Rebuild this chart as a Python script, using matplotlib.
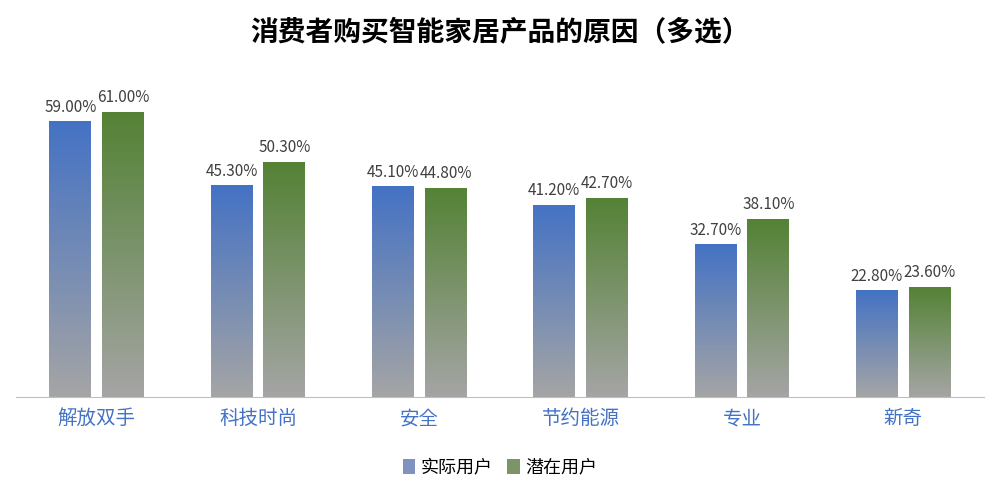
import matplotlib
matplotlib.use("Agg")
import matplotlib.pyplot as plt
from matplotlib import font_manager as fm
import numpy as np
from matplotlib.patches import Rectangle
from matplotlib.colors import LinearSegmentedColormap

for f in fm.findSystemFonts():
    if "CJK" in f or "Noto" in f:
        try:
            fm.fontManager.addfont(f)
        except Exception:
            pass
names = {f.name for f in fm.fontManager.ttflist}
cjk = [n for n in ["Noto Sans CJK SC", "Noto Sans CJK JP", "Noto Sans CJK TC", "Noto Sans CJK KR"] if n in names]
cjk += sorted(n for n in names if "CJK" in n and n not in cjk)
plt.rcParams["font.family"] = cjk + ["DejaVu Sans"]

categories = ["解放双手", "科技时尚", "安全", "节约能源", "专业", "新奇"]
actual = [59.0, 45.3, 45.1, 41.2, 32.7, 22.8]
potential = [61.0, 50.3, 44.8, 42.7, 38.1, 23.6]
series_names = ["实际用户", "潜在用户"]

fig = plt.figure(figsize=(10, 5), dpi=100)
ax = fig.add_axes([0.016, 0.206, 0.968, 0.654])
ax.set_xlim(-0.5, len(categories) - 0.5)
ax.set_ylim(0, 70)

w = 0.26
off = 0.163
cmaps = [LinearSegmentedColormap.from_list("b", ["#A5A5A5", "#4472C4"]),
         LinearSegmentedColormap.from_list("g", ["#A5A5A5", "#548235"])]
grad = np.linspace(0, 1, 256).reshape(-1, 1)
x = np.arange(len(categories))
for si, (vals, sign) in enumerate([(actual, -1), (potential, 1)]):
    for xi, v in zip(x, vals):
        left = xi + sign * off - w / 2
        rect = Rectangle((left, 0), w, v, transform=ax.transData, facecolor="none", edgecolor="none")
        ax.add_patch(rect)
        im = ax.imshow(grad, extent=[left, left + w, 0, v], origin="lower", aspect="auto", cmap=cmaps[si], zorder=2)
        im.set_clip_path(rect)
        ax.text(xi + sign * off, v + 1.2, f"{v:.2f}%", ha="center", va="bottom", fontsize=11, color="#404040")

ax.set_xticks(x)
ax.set_xticklabels(categories, fontsize=14, color="#4472C4")
ax.tick_params(axis="x", length=0, pad=8)
ax.set_yticks([])
for s in ["top", "right", "left"]:
    ax.spines[s].set_visible(False)
ax.spines["bottom"].set_color("#BFBFBF")

fig.text(0.5, 0.935, "消费者购买智能家居产品的原因（多选）", ha="center", va="center", fontsize=20, fontweight="bold")

handles = [Rectangle((0, 0), 1, 1, facecolor=c) for c in ["#7F92C0", "#7C9467"]]
fig.legend(handles, series_names, loc="center", bbox_to_anchor=(0.5, 0.065), ncol=2, frameon=False,
           fontsize=13, handlelength=0.7, handleheight=0.9, columnspacing=0.8, handletextpad=0.3)

fig.savefig("out.png")
